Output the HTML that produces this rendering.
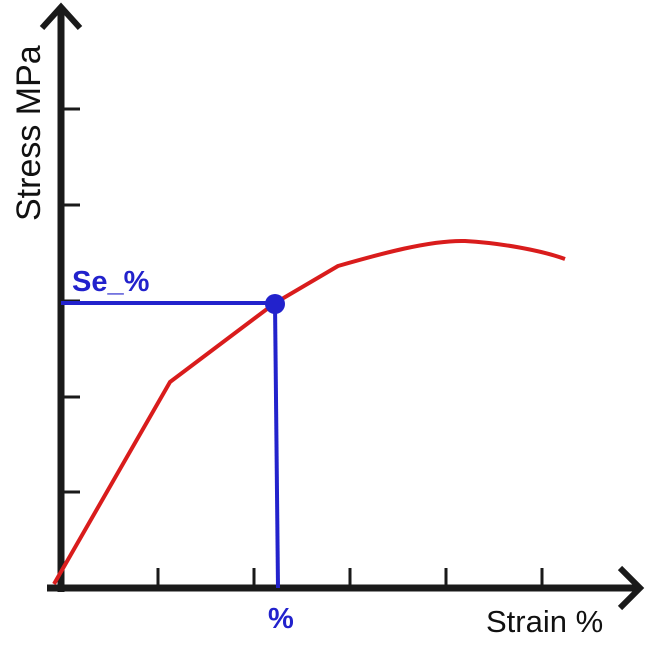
<!DOCTYPE html>
<html><head><style>body{margin:0;background:#fff}</style></head><body>
<svg width="650" height="650" xmlns="http://www.w3.org/2000/svg">
<rect width="650" height="650" fill="#fff"/>
<g stroke="#1a1a1a" fill="none">
<line x1="61" y1="8" x2="61" y2="592" stroke-width="7"/>
<line x1="47" y1="588" x2="638" y2="588" stroke-width="7"/>
<polyline points="42,28 61,7 80,28" stroke-width="6"/>
<polyline points="620,568 640,588 620,608" stroke-width="6"/>
<g stroke-width="3">
<line x1="61" y1="109" x2="80" y2="109"/><line x1="61" y1="205" x2="80" y2="205"/>
<line x1="61" y1="301" x2="80" y2="301"/><line x1="61" y1="397" x2="80" y2="397"/>
<line x1="61" y1="492" x2="80" y2="492"/>
<line x1="158" y1="568" x2="158" y2="588"/><line x1="254" y1="568" x2="254" y2="588"/>
<line x1="350" y1="568" x2="350" y2="588"/><line x1="446" y1="568" x2="446" y2="588"/>
<line x1="542" y1="568" x2="542" y2="588"/>
</g></g>
<path d="M54,584 L170,382 L275,303 L338,266 C380,254 430,240 465,241 C500,243 540,250 565,259" stroke="#d91c1c" stroke-width="4" fill="none"/>
<line x1="61" y1="303" x2="275" y2="303" stroke="#2222cc" stroke-width="4"/>
<line x1="275" y1="303" x2="278" y2="588" stroke="#2222cc" stroke-width="4"/>
<circle cx="275" cy="304" r="10" fill="#2222cc"/>
<text x="72" y="291" font-family="Liberation Sans, sans-serif" font-weight="bold" font-size="29" fill="#2222cc">Se_%</text>
<text x="268" y="628" font-family="Liberation Sans, sans-serif" font-weight="bold" font-size="29" fill="#2222cc">%</text>
<text x="486" y="632" font-family="Liberation Sans, sans-serif" font-size="31" fill="#111">Strain %</text>
<text transform="translate(40,221) rotate(-90)" font-family="Liberation Sans, sans-serif" font-size="34" fill="#111">Stress MPa</text>
</svg>
</body></html>
